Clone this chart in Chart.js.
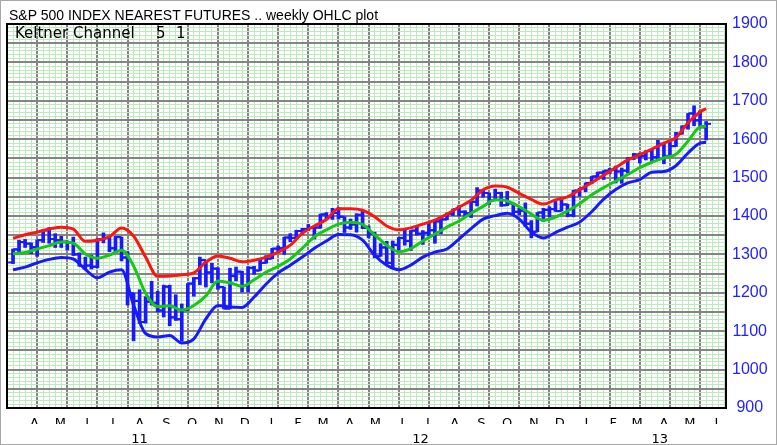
<!DOCTYPE html>
<html>
<head>
<meta charset="utf-8">
<script src="https://cdn.jsdelivr.net/npm/chart.js@4.4.1/dist/chart.umd.min.js"></script>
<style>
  html, body { margin: 0; padding: 0; background: #fff; }
  #wrap { position: relative; width: 777px; height: 445px; }
  #frame { position: absolute; left: 0; top: 0; width: 777px; height: 445px; box-sizing: border-box; border: 1px solid #a8a8a8; pointer-events: none; }
  .txt { position: absolute; color: #000; white-space: pre; line-height: 15px; }
  .title { font-family: 'Liberation Sans', sans-serif; font-size: 14px; }
  .kc { font-family: 'DejaVu Sans', sans-serif; font-size: 15px; }
</style>
</head>
<body>
<div id="wrap">
  <canvas id="chart" width="777" height="445"></canvas>
  <div class="txt title" style="left:9px;top:8px">S&amp;P 500 INDEX NEAREST FUTURES .. weekly OHLC plot</div>
  <div class="txt kc" style="left:15px;top:26px">Keltner Channel</div>
  <div class="txt kc" style="left:156px;top:26px">5</div>
  <div class="txt kc" style="left:176px;top:26px">1</div>
  <div id="frame"></div>
</div>
<script>
// Weekly bars, week 0 = week of 21 Mar 2011
var barOpen = [1279, 1313, 1332, 1328, 1318, 1337, 1363, 1340, 1337, 1333, 1331, 1300, 1270, 1271, 1268, 1339, 1343, 1316, 1345, 1292,
  1199, 1179, 1124, 1177, 1174, 1154, 1216, 1136, 1131, 1155, 1224, 1238, 1285, 1253, 1263, 1215, 1159, 1244, 1255, 1219,
  1265, 1258, 1278, 1289, 1315, 1316, 1344, 1343, 1361, 1366, 1369, 1370, 1404, 1397, 1408, 1398, 1370, 1378, 1403, 1369,
  1353, 1295, 1318, 1278, 1325, 1343, 1335, 1362, 1354, 1356, 1363, 1386, 1391, 1406, 1418, 1411, 1407, 1437, 1466, 1460,
  1441, 1460, 1428, 1433, 1411, 1414, 1380, 1359, 1409, 1416, 1418, 1413, 1430, 1402, 1466, 1472, 1486, 1503, 1513, 1518,
  1520, 1516, 1518, 1551, 1560, 1556, 1569, 1553, 1588, 1555, 1582, 1614, 1633, 1667, 1649, 1631];
var barHigh = [1314, 1337, 1339, 1330, 1338, 1364, 1370, 1354, 1347, 1335, 1345, 1304, 1293, 1298, 1341, 1356, 1347, 1347, 1345, 1307,
  1199, 1208, 1190, 1230, 1204, 1220, 1220, 1195, 1171, 1224, 1240, 1293, 1285, 1277, 1265, 1215, 1264, 1267, 1256, 1268,
  1269, 1285, 1297, 1316, 1322, 1345, 1354, 1363, 1368, 1378, 1374, 1405, 1409, 1420, 1422, 1398, 1392, 1406, 1415, 1374,
  1358, 1328, 1334, 1335, 1344, 1363, 1362, 1375, 1362, 1381, 1390, 1394, 1408, 1418, 1427, 1414, 1438, 1474, 1467, 1460,
  1470, 1462, 1464, 1434, 1420, 1434, 1388, 1409, 1420, 1424, 1438, 1448, 1431, 1467, 1472, 1486, 1503, 1514, 1518, 1524,
  1530, 1525, 1552, 1563, 1564, 1570, 1573, 1597, 1589, 1592, 1618, 1635, 1667, 1687, 1674, 1646];
var barLow = [1276, 1306, 1318, 1302, 1295, 1331, 1329, 1318, 1318, 1311, 1297, 1269, 1262, 1262, 1265, 1330, 1307, 1304, 1283, 1168,
  1075, 1120, 1121, 1168, 1150, 1137, 1114, 1128, 1074, 1154, 1191, 1221, 1215, 1226, 1209, 1158, 1158, 1231, 1202, 1202,
  1248, 1258, 1277, 1289, 1306, 1300, 1333, 1340, 1352, 1362, 1340, 1368, 1391, 1391, 1392, 1357, 1365, 1358, 1367, 1343,
  1291, 1295, 1278, 1266, 1307, 1324, 1310, 1350, 1326, 1348, 1329, 1354, 1390, 1401, 1400, 1397, 1396, 1426, 1449, 1430,
  1440, 1425, 1427, 1403, 1403, 1373, 1343, 1359, 1386, 1398, 1412, 1413, 1398, 1398, 1451, 1463, 1484, 1495, 1495, 1510,
  1486, 1485, 1512, 1547, 1538, 1546, 1539, 1548, 1536, 1553, 1581, 1613, 1626, 1635, 1630, 1598];
var barClose = [1313, 1332, 1328, 1319, 1337, 1363, 1340, 1337, 1333, 1331, 1300, 1270, 1271, 1268, 1339, 1343, 1316, 1345, 1292, 1199,
  1179, 1124, 1177, 1174, 1154, 1216, 1136, 1131, 1155, 1224, 1238, 1285, 1253, 1263, 1215, 1159, 1244, 1255, 1219, 1265,
  1258, 1278, 1289, 1315, 1316, 1344, 1343, 1361, 1366, 1369, 1370, 1404, 1397, 1408, 1398, 1370, 1378, 1403, 1369, 1353,
  1295, 1318, 1278, 1325, 1343, 1335, 1362, 1354, 1356, 1363, 1386, 1391, 1406, 1418, 1411, 1407, 1437, 1466, 1460, 1441,
  1460, 1428, 1433, 1411, 1414, 1380, 1359, 1409, 1416, 1418, 1413, 1430, 1402, 1466, 1472, 1486, 1503, 1513, 1518, 1520,
  1516, 1518, 1551, 1560, 1556, 1569, 1553, 1588, 1555, 1582, 1614, 1633, 1667, 1649, 1631, 1640];

// Keltner channel lines, read every second week
var keltnerWeeks = [0, 2, 4, 6, 8, 10, 12, 14, 16, 18, 20, 22, 24, 26, 28, 30, 32, 34, 36, 38, 40, 42, 44, 46, 48, 50, 52, 54, 56, 58,
  60, 62, 64, 66, 68, 70, 72, 74, 76, 78, 80, 82, 84, 86, 88, 90, 92, 94, 96, 98, 100, 102, 104, 106, 108, 110, 112, 114, 115];
var keltnerUpper = [1342, 1351, 1358, 1366, 1371, 1366, 1334, 1337, 1346, 1369, 1348, 1293, 1243, 1244, 1247, 1252, 1280, 1296, 1290, 1281,
  1285, 1293, 1306, 1324, 1355, 1374, 1391, 1419, 1419, 1415, 1398, 1374, 1364, 1369, 1379, 1389, 1405, 1423, 1441, 1468,
  1478, 1475, 1459, 1443, 1431, 1442, 1450, 1468, 1487, 1506, 1526, 1546, 1560, 1574, 1590, 1604, 1643, 1671, 1680];
var keltnerMiddle = [1302, 1305, 1314, 1323, 1332, 1329, 1301, 1290, 1298, 1311, 1270, 1199, 1164, 1166, 1155, 1167, 1192, 1231, 1226, 1217,
  1234, 1254, 1269, 1288, 1316, 1346, 1364, 1379, 1384, 1378, 1351, 1324, 1307, 1315, 1335, 1353, 1371, 1387, 1407, 1425,
  1442, 1439, 1424, 1405, 1389, 1397, 1413, 1432, 1455, 1474, 1491, 1508, 1526, 1540, 1551, 1561, 1595, 1632, 1634];
var keltnerLower = [1260, 1267, 1278, 1287, 1292, 1288, 1261, 1239, 1254, 1260, 1168, 1094, 1085, 1089, 1069, 1080, 1132, 1167, 1163, 1162,
  1189, 1223, 1252, 1272, 1293, 1316, 1335, 1352, 1351, 1337, 1298, 1272, 1260, 1272, 1293, 1306, 1314, 1340, 1367, 1392,
  1401, 1407, 1392, 1358, 1343, 1357, 1371, 1384, 1411, 1444, 1469, 1486, 1495, 1514, 1516, 1531, 1564, 1590, 1592];

// Axis labels: months sit mid-month, years under their span (in weeks)
var monthLabels = ['A', 'M', 'J', 'J', 'A', 'S', 'O', 'N', 'D', 'J', 'F', 'M', 'A', 'M', 'J', 'J', 'A', 'S', 'O', 'N', 'D', 'J', 'F', 'M', 'A', 'M', 'J'];
var monthWeeks = [3.57, 7.86, 12.29, 16.57, 21.0, 25.43, 29.71, 34.14, 38.43, 42.86, 47.29, 51.43, 55.86, 60.14, 64.57, 68.86, 73.29,
  77.71, 82.0, 86.43, 90.71, 95.14, 99.57, 103.57, 108.0, 112.29, 116.71];
var yearLabels = ['11', '12', '13'];
var yearWeeks = [21.0, 67.6, 107.3];

var X_MIN = -1, X_MAX = 118.3;
var majorGrid = 'rgb(132,132,132)';
var minorGrid = 'rgb(188,234,188)';
var barBlue = 'rgb(25,25,255)';

var weeks = barOpen.map(function (v, i) { return i; });

var plotBorder = {
  id: 'plotBorder',
  afterDatasetsDraw: function (chart) {
    var a = chart.chartArea, ctx = chart.ctx;
    ctx.save();
    ctx.strokeStyle = '#000';
    ctx.lineWidth = 2;
    ctx.strokeRect(a.left, a.top, a.right - a.left, a.bottom - a.top);
    ctx.restore();
  }
};

var keltnerLine = function (values, color) {
  return {
    type: 'line',
    data: keltnerWeeks.map(function (w, i) { return { x: w, y: values[i] }; }),
    borderColor: color,
    borderWidth: 3,
    pointRadius: 0,
    cubicInterpolationMode: 'monotone',
    order: 0
  };
};

var tickFont = { family: "'DejaVu Sans', sans-serif", size: 13 };

new Chart(document.getElementById('chart'), {
  type: 'line',
  data: {
    datasets: [
      keltnerLine(keltnerUpper, 'rgb(255,20,20)'),
      keltnerLine(keltnerMiddle, 'rgb(20,200,20)'),
      keltnerLine(keltnerLower, 'rgb(25,25,255)'),
      {
        // high-low range of each week
        type: 'bar',
        data: weeks.map(function (i) { return { x: i, y: [barLow[i], barHigh[i]] }; }),
        backgroundColor: barBlue,
        barThickness: 3,
        grouped: false,
        order: 5
      },
      {
        // open tick on the left
        type: 'line',
        showLine: false,
        data: weeks.map(function (i) { return { x: i - 0.4, y: barOpen[i] }; }),
        pointStyle: 'line',
        pointRadius: 2.5,
        borderWidth: 2,
        borderColor: barBlue,
        order: 5
      },
      {
        // close tick on the right
        type: 'line',
        showLine: false,
        data: weeks.map(function (i) { return { x: i + 0.4, y: barClose[i] }; }),
        pointStyle: 'line',
        pointRadius: 2.5,
        borderWidth: 2,
        borderColor: barBlue,
        order: 5
      }
    ]
  },
  options: {
    responsive: false,
    animation: false,
    events: [],
    layout: { padding: { left: 7, top: 24, right: 0, bottom: 0 } },
    plugins: { legend: { display: false }, tooltip: { enabled: false } },
    scales: {
      x: {
        type: 'linear', position: 'bottom', min: X_MIN, max: X_MAX, offset: false, weight: 0,
        afterBuildTicks: function (s) { s.ticks = monthWeeks.map(function (v) { return { value: v }; }); },
        afterFit: function (s) { s.height = 16; },
        ticks: {
          autoSkip: false, maxRotation: 0, minRotation: 0, padding: 0, color: '#000', font: tickFont,
          callback: function (v, i) { return monthLabels[i]; }
        },
        grid: { display: false },
        border: { display: false }
      },
      xYear: {
        type: 'linear', position: 'bottom', min: X_MIN, max: X_MAX, offset: false, weight: 1,
        afterBuildTicks: function (s) { s.ticks = yearWeeks.map(function (v) { return { value: v }; }); },
        afterFit: function (s) { s.height = 21; },
        ticks: {
          autoSkip: false, maxRotation: 0, minRotation: 0, padding: 0, color: '#000', font: tickFont,
          callback: function (v, i) { return yearLabels[i]; }
        },
        grid: { display: false },
        border: { display: false }
      },
      xGrid: {
        type: 'linear', position: 'top', min: X_MIN, max: X_MAX, offset: false,
        afterBuildTicks: function (s) {
          s.ticks = [];
          for (var w = -1; w <= 118; w++) s.ticks.push({ value: w });
        },
        ticks: { display: false },
        grid: {
          drawTicks: false,
          color: function (c) { return ((c.tick.value + 1) % 5 === 0) ? majorGrid : minorGrid; },
          lineWidth: function (c) { return ((c.tick.value + 1) % 5 === 0) ? 2 : 1; }
        },
        border: { display: false }
      },
      y: {
        type: 'linear', position: 'right', min: 900, max: 1900,
        afterFit: function (s) { s.width = 51; },
        ticks: {
          stepSize: 10, autoSkip: false, padding: 6, crossAlign: 'center', color: 'rgb(30,30,255)',
          font: { family: "'Liberation Sans', sans-serif", size: 16 },
          callback: function (v) { return v % 100 === 0 ? String(v) : ''; }
        },
        grid: {
          drawTicks: false,
          color: function (c) { return c.tick.value % 50 === 0 ? majorGrid : minorGrid; },
          lineWidth: function (c) { return c.tick.value % 50 === 0 ? 2 : 1; }
        },
        border: { display: false }
      }
    }
  },
  plugins: [plotBorder]
});
</script>
</body>
</html>
